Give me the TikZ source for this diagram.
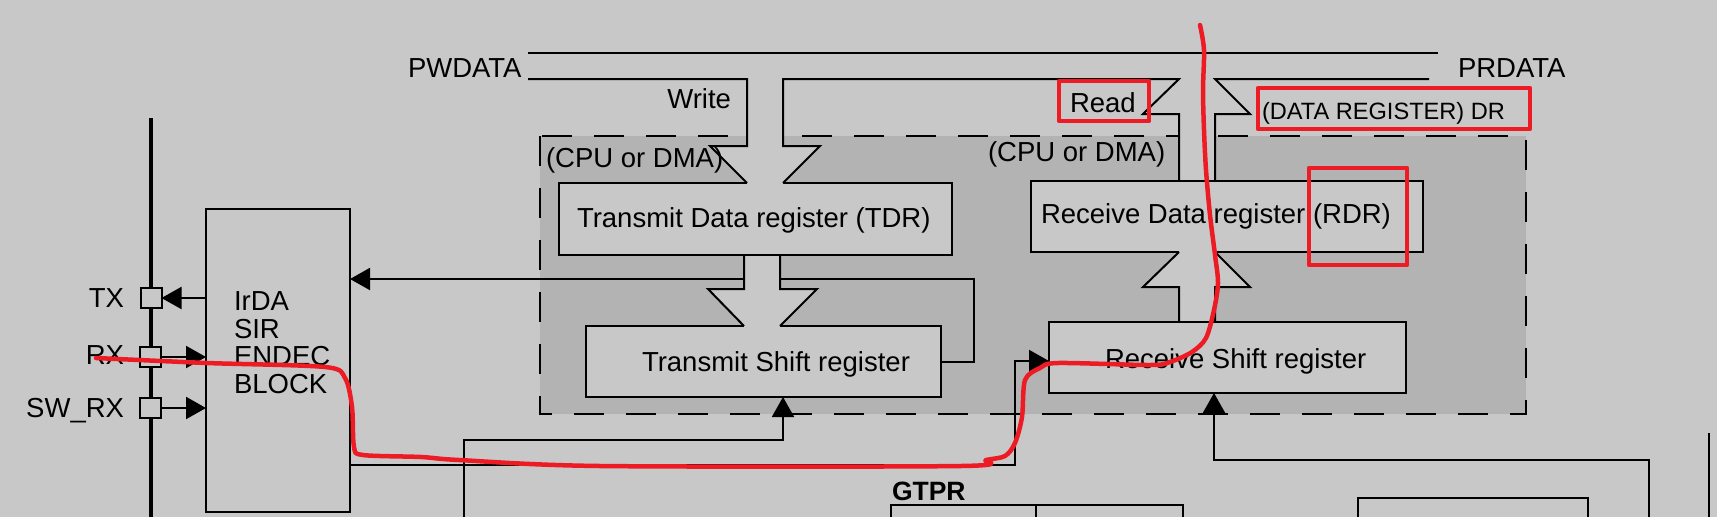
\documentclass[tikz,border=0pt]{standalone}
\usepackage{fontspec}
\setmainfont{Liberation Sans}
\usetikzlibrary{arrows.meta}
\definecolor{bgc}{HTML}{C8C8C8}
\definecolor{shadec}{HTML}{B3B3B3}
\definecolor{markc}{HTML}{ED1C24}
\begin{document}
\begin{tikzpicture}[x=1pt,y=-1pt,
  box/.style={draw,line width=2pt,fill=bgc,rectangle,inner sep=0pt,outer sep=0pt},
  wire/.style={line width=2pt},
  tipped/.style={wire,-{Triangle[length=20pt,width=22pt]}},
  outl/.style={line width=2pt,line join=miter},
  lbl/.style={inner sep=0pt,outer sep=0pt,font=\fontsize{27.5}{30}\selectfont},
  smalllbl/.style={inner sep=0pt,outer sep=0pt,font=\fontsize{23.6}{26}\selectfont},
  boldlbl/.style={inner sep=0pt,outer sep=0pt,font=\fontsize{26.5}{28}\selectfont\bfseries},
  redmark/.style={draw=markc,line width=4.5pt,line cap=round,line join=round}
]
\useasboundingbox (0,0) rectangle (1717,517);
\fill[bgc] (0,0) rectangle (1717,517);
% shaded USART data region
\fill[shadec] (540,136) rectangle (1526,414);
\draw[line width=2.5pt,dash pattern=on 30pt off 22pt] (540,136) rectangle (1526,414);
% PWDATA / PRDATA top bus line
\draw[wire] (528,53) -- (1438,53);
% thick pin bus
\draw[line width=4.5pt] (151,118) -- (151,517);
% coordinates
\coordinate (fb) at (974,279);
\coordinate (tsrclk) at (464,517);
\coordinate (c1) at (783,440);
\coordinate (c2) at (1015,465);
\coordinate (c3) at (1049,361);
\coordinate (c4) at (1649,517);
\coordinate (c5) at (1214,460);
% boxes
\node[box,minimum width=144pt,minimum height=303pt] (irda) at (278,360.5) {};
\node[box,minimum width=393pt,minimum height=72pt] (tdr) at (755.5,219) {};
\node[box,minimum width=392pt,minimum height=71pt] (rdr) at (1227,216.5) {};
\node[box,minimum width=355pt,minimum height=71pt] (tsr) at (763.5,361.5) {};
\node[box,minimum width=357pt,minimum height=71pt] (rsr) at (1227.5,357.5) {};
\node[box,minimum width=21pt,minimum height=20pt] (tx) at (151,298) {};
\node[box,minimum width=21pt,minimum height=20pt] (rx) at (150,357) {};
\node[box,minimum width=21pt,minimum height=20pt] (swrx) at (150,408) {};
% connectors
\draw[tipped] (irda.west |- tx) -- (tx.east);
\draw[tipped] (rx.east) -- (irda.west |- rx);
\draw[tipped] (swrx.east) -- (irda.west |- swrx);
\draw[tipped] (tsr.east) -| (fb) -- (fb -| irda.east);
\draw[tipped] (tsrclk) |- (c1) -- (c1 |- tsr.south);
\draw[tipped] (irda.east |- c2) -- (c2) |- (c3);
\draw[tipped] (c4) |- (c5) -- (c5 |- rsr.south);
% lower partial blocks
\draw[wire] (891,517) |- (1183,505) -- (1183,517);
\draw[wire] (1036,505) -- (1036,517);
\draw[wire] (1358,517) |- (1588,498) -- (1588,517);
\draw[wire] (1709,433) -- (1709,517);
% block arrow fills
\fill[bgc] (747,79) -- (747,146) -- (710,146) -- (747,183) -- (747,185.5) -- (783,185.5) -- (783,183) -- (820,146) -- (783,146) -- (783,79) -- cycle;
\fill[bgc] (1179,179.8) -- (1179,114) -- (1143,114) -- (1179,79) -- (1215,79) -- (1250,114) -- (1215,114) -- (1215,179.8) -- cycle;
\fill[bgc] (744,256.2) -- (744,289) -- (708,289) -- (744,326) -- (744,328.5) -- (780,328.5) -- (780,326) -- (817,289) -- (780,289) -- (780,256.2) -- cycle;
\fill[bgc] (1179,320.8) -- (1179,287) -- (1143,287) -- (1179,252) -- (1179,249.5) -- (1215,249.5) -- (1215,252) -- (1250,287) -- (1215,287) -- (1215,320.8) -- cycle;
% block arrow outlines with bus bottom line
\draw[outl] (528,79) -- (747,79) -- (747,146) -- (710,146) -- (747,183);
\draw[outl] (783,183) -- (820,146) -- (783,146) -- (783,79) -- (1179,79) -- (1143,114) -- (1179,114) -- (1179,181);
\draw[outl] (1215,181) -- (1215,114) -- (1250,114) -- (1215,79) -- (1429,79);
\draw[outl] (744,255) -- (744,289) -- (708,289) -- (744,326);
\draw[outl] (780,326) -- (817,289) -- (780,289) -- (780,255);
\draw[outl] (1179,322) -- (1179,287) -- (1143,287) -- (1179,252);
\draw[outl] (1215,252) -- (1250,287) -- (1215,287) -- (1215,322);
% labels
\node[lbl,anchor=base west] (pw) at (408,77) {PWDATA};
\node[lbl,anchor=base west] (pr) at (1458,77) {PRDATA};
\node[lbl,anchor=base east] (wr) at (731,108) {Write};
\node[lbl,anchor=base west] (rd) at (1070,112) {Read};
\node[lbl,anchor=base west] (cpu1) at (546,167) {(CPU or DMA)};
\node[lbl,anchor=base west] (cpu2) at (988,161) {(CPU or DMA)};
\node[smalllbl,anchor=base west] (dr) at (1262,119) {(DATA REGISTER) DR};
\node[lbl,anchor=base west] (tdrt) at (577,227) {Transmit Data register (TDR)};
\node[lbl,anchor=base west] (rdrt) at (1041,223) {Receive Data register (RDR)};
\node[lbl,anchor=base west] (tsrt) at (642,371) {Transmit Shift register};
\node[lbl,anchor=base west] (rsrt) at (1105,368) {Receive Shift register};
\node[lbl,anchor=base east] (txt) at (124,307) {TX};
\node[lbl,anchor=base east] (rxt) at (124,364) {RX};
\node[lbl,anchor=base east] (swt) at (124,417) {SW\_RX};
\node[lbl,anchor=base west] (ir1) at (234,310) {IrDA};
\node[lbl,anchor=base west] (ir2) at (234,338) {SIR};
\node[lbl,anchor=base west] (ir3) at (234,365) {ENDEC};
\node[lbl,anchor=base west] (ir4) at (234,393) {BLOCK};
\node[boldlbl,anchor=base west] (gt) at (892,500) {GTPR};
% red annotations
\draw[redmark] (1059,81) rectangle (1149,121);
\draw[redmark] (1258,88) rectangle (1530,129);
\draw[redmark] (1309,168) rectangle (1407,265);
\draw[redmark] plot[smooth,tension=0.5] coordinates {(96,358) (207,363) (325,367) (345,378) (352,407) (354,447) (363,455) (421,457) (459,460) (600,466) (961,466) (986,460) (1005,456) (1015,443) (1022,417) (1025,380) (1040,368) (1058,363) (1150,365) (1170,362) (1192,352) (1206,338) (1214,310) (1218,283) (1215,255) (1210,215) (1206,170) (1204,130) (1203,90) (1204,50) (1200,25)};
\end{tikzpicture}
\end{document}
